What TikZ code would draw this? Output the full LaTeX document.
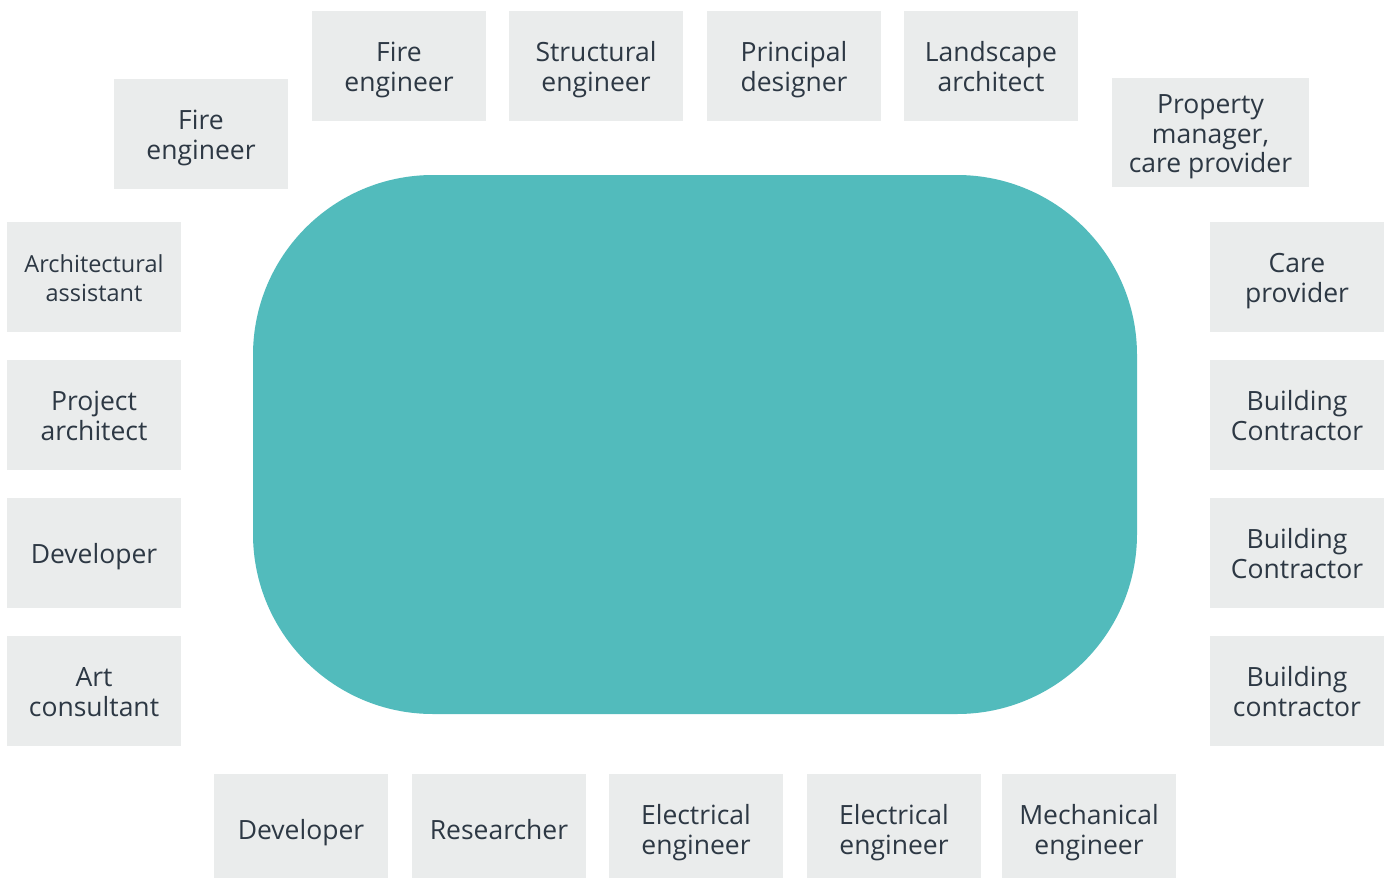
\documentclass[tikz,border=0pt]{standalone}
\usepackage{fontspec}
\setmainfont{Open Sans}
\definecolor{boxgray}{HTML}{EAECEC}
\definecolor{teal}{HTML}{52BBBC}
\definecolor{txt}{HTML}{2D3844}
\newcommand\mystrut{\rule[-7pt]{0pt}{35pt}}
\newcommand\rolefont{\fontsize{26.5}{29.5}\selectfont\lineskiplimit-100pt\relax}
\newcommand\smallrolefont{\fontsize{23.5}{29.5}\selectfont\lineskiplimit-100pt\relax}
\begin{document}
\begin{tikzpicture}[x=1pt,y=-1pt,
  role/.style={rectangle, fill=boxgray, text=txt, minimum width=174pt, minimum height=110pt,
    inner sep=0pt, align=center, font=\rolefont},
  hub/.style={rectangle, fill=teal, rounded corners=180pt, minimum width=884pt, minimum height=539pt, inner sep=0pt}]
\useasboundingbox (0,0) rectangle (1387,878);
\node[hub] (hub) at (695,444.5) {};
% top
\node[role] (fe1) at (201,134) {\mystrut Fire\\\mystrut engineer};
\node[role] (fe2) at (399,66) {\mystrut Fire\\\mystrut engineer};
\node[role] (se) at (596,66) {\mystrut Structural\\\mystrut engineer};
\node[role] (pd) at (794,66) {\mystrut Principal\\\mystrut designer};
\node[role] (la) at (991,66) {\mystrut Landscape\\\mystrut architect};
\node[role, minimum width=197pt, minimum height=109pt] (pm) at (1210.5,132.5) {\mystrut Property\\\mystrut manager,\\\mystrut care provider};
% left
\node[role, font=\smallrolefont] (aa) at (94,277) {\rule[-7pt]{0pt}{34pt}Architectural\\\rule[-7pt]{0pt}{34pt}assistant};
\node[role] (pa) at (94,415) {\mystrut Project\\\mystrut architect};
\node[role] (dv1) at (94,553) {\mystrut Developer};
\node[role] (ac) at (94,691) {\mystrut Art\\\mystrut consultant};
% right
\node[role] (cp) at (1297,277) {\mystrut Care\\\mystrut provider};
\node[role] (bc1) at (1297,415) {\mystrut Building\\\mystrut Contractor};
\node[role] (bc2) at (1297,553) {\mystrut Building\\\mystrut Contractor};
\node[role] (bc3) at (1297,691) {\mystrut Building\\\mystrut contractor};
% bottom
\node[role] (dv2) at (301,829) {\mystrut Developer};
\node[role] (rs) at (499,829) {\mystrut Researcher};
\node[role] (ee1) at (696,829) {\mystrut Electrical\\\mystrut engineer};
\node[role] (ee2) at (894,829) {\mystrut Electrical\\\mystrut engineer};
\node[role] (me) at (1089,829) {\mystrut Mechanical\\\mystrut engineer};
\end{tikzpicture}
\end{document}
